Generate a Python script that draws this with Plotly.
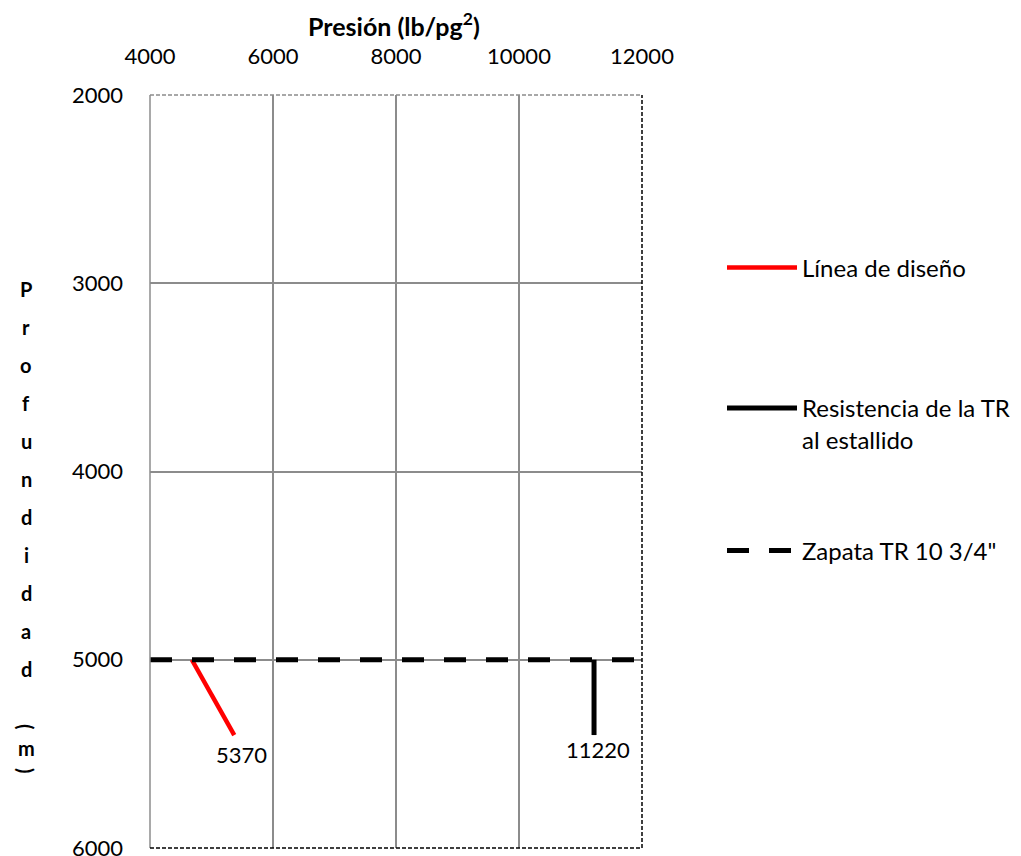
import plotly.graph_objects as go

# ---- data ----
x_ticks = [4000, 6000, 8000, 10000, 12000]
x_tick_text = ["4000", "6000", "8000", "10000", "12000"]
y_ticks = [2000, 3000, 4000, 5000, 6000]
y_tick_text = ["2000", "3000", "4000", "5000", "6000"]

diseno_presion = [4680, 5370]
diseno_prof = [5000, 5400]
diseno_label = "5370"

resist_presion = [11220, 11220]
resist_prof = [5000, 5400]
resist_label = "11220"

zapata_presion = [4000, 12000]
zapata_prof = [5000, 5000]

series_names = ["Línea de diseño", "Resistencia de la TR<br>al estallido", "Zapata TR 10 3/4\""]
y_title_chars = list("Profundidad") + ["(", "m", ")"]

FONT = "Lato"
W, H = 1021, 856
OFF = 8  # page body margin
# plot area in screen pixels
SL, ST, SR, SB = 150, 95, 642, 848
PW, PH = SR - SL, SB - ST
L, T = SL - OFF, ST - OFF
R, B = W - L - PW, H - T - PH

def px_x(s):
    return (s - SL) / PW

def px_y(s):
    return (SB - s) / PH

fig = go.Figure()

fig.add_trace(go.Scatter(
    x=diseno_presion, y=diseno_prof, mode="lines",
    line=dict(color="#ff0000", width=4.5), name=series_names[0], legend="legend"))

fig.add_trace(go.Scatter(
    x=resist_presion, y=resist_prof, mode="lines",
    line=dict(color="black", width=5), name=series_names[1], legend="legend2"))

fig.add_trace(go.Scatter(
    x=zapata_presion, y=zapata_prof, mode="lines",
    line=dict(color="black", width=5, dash="22px,20px"), name=series_names[2], legend="legend3"))

legend_common = dict(font=dict(family=FONT, size=24, color="black"), bgcolor="rgba(0,0,0,0)",
                     xanchor="left", yanchor="middle", itemwidth=70, valign="top")
fig.update_layout(
    legend=dict(x=px_x(722), y=px_y(268), **legend_common),
    legend2=dict(x=px_x(722), y=px_y(424), **legend_common),
    legend3=dict(x=px_x(722), y=px_y(551), **legend_common),
)

annotations = []
# data labels at the end points
annotations.append(dict(text=diseno_label, x=diseno_presion[-1], y=diseno_prof[-1],
                        xref="x", yref="y", showarrow=False, xanchor="center", yanchor="middle",
                        xshift=7, yshift=-19, font=dict(family=FONT, size=22, color="black")))
annotations.append(dict(text=resist_label, x=resist_presion[-1], y=resist_prof[-1],
                        xref="x", yref="y", showarrow=False, xanchor="center", yanchor="middle",
                        xshift=4, yshift=-14, font=dict(family=FONT, size=22, color="black")))

# y title stacked letters
ys = [289 + 38 * i for i in range(11)] + [727, 748, 771]
for ch, yy in zip(y_title_chars, ys):
    annotations.append(dict(
        text=f"<b>{ch}</b>", x=px_x(26), y=px_y(yy), xref="paper", yref="paper",
        xanchor="center", yanchor="middle", showarrow=False,
        textangle=90 if ch in "()" else 0,
        font=dict(family=FONT, size=20, color="black")))

annotations.append(dict(
    text="<b>Presión (lb/pg<sup>2</sup>)</b>", x=px_x(394), y=px_y(24), xref="paper", yref="paper",
    xanchor="center", yanchor="middle", showarrow=False,
    font=dict(family=FONT, size=25, color="black")))

fig.update_layout(
    width=W, height=H, margin=dict(l=L, r=R, t=T, b=B, autoexpand=False),
    paper_bgcolor="white", plot_bgcolor="white",
    annotations=annotations,
    showlegend=True,
    xaxis=dict(side="top", range=[4000, 12000], tickvals=x_ticks, ticktext=x_tick_text, ticks="",
               showgrid=True, gridcolor="#8c8c8c", gridwidth=1.5, zeroline=False,
               showline=False, ticklabelstandoff=26, automargin=False,
               tickfont=dict(family=FONT, size=22, color="black")),
    yaxis=dict(range=[6000, 2000], tickvals=y_ticks, ticktext=y_tick_text, ticks="",
               showgrid=True, gridcolor="#8c8c8c", gridwidth=1.5, zeroline=False,
               showline=False, ticklabelstandoff=26, automargin=False,
               tickfont=dict(family=FONT, size=22, color="black")),
    shapes=[
        dict(type="line", xref="paper", yref="paper", x0=0, x1=0, y0=0, y1=1,
             line=dict(color="#8c8c8c", width=1.5)),
        dict(type="line", xref="paper", yref="paper", x0=0, x1=1, y0=1, y1=1,
             line=dict(color="#8c8c8c", width=1.5, dash="4px,2px")),
        dict(type="line", xref="paper", yref="paper", x0=1, x1=1, y0=0, y1=1,
             line=dict(color="black", width=1.5, dash="4px,2px")),
        dict(type="line", xref="paper", yref="paper", x0=0, x1=1, y0=0, y1=0,
             line=dict(color="black", width=1.5, dash="4px,2px")),
    ],
)

fig.write_html("out.html")
